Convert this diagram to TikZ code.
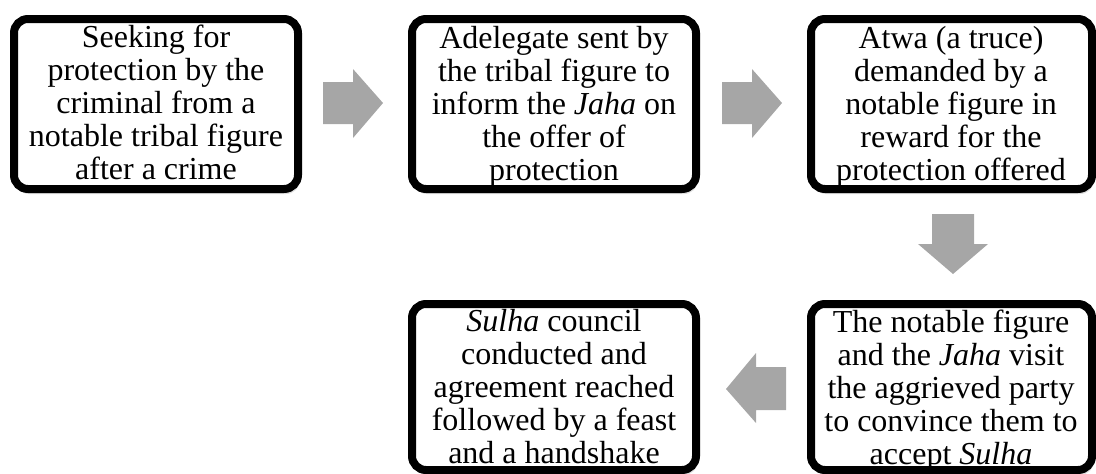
\documentclass[tikz,border=0pt]{standalone}
\usepackage{fontspec}
\setmainfont{Liberation Serif}
\begin{document}
\begin{tikzpicture}[x=1pt,y=-1pt,
  stepbox/.style={draw=black,line width=8pt,rounded corners=14pt,fill=white},
  shadowbox/.style={fill=black!25,opacity=0.5,rounded corners=14pt},
  boxtext/.style={align=center,inner sep=0pt,anchor=base,font=\fontsize{32pt}{33pt}\selectfont},
  arrowfill/.style={fill=black!35,draw=none}]
\useasboundingbox (0,0) rectangle (1096,474);
% shadows
\foreach \a/\b/\c/\d in {14/19/298/189, 412/19/696/189, 811/19/1092/189, 811/304/1092/470, 412/304/696/470}{
  \fill[shadowbox] (\a+1,\b+4) rectangle (\c+2,\d+5);
}
% boxes
\draw[stepbox] (14,19) rectangle (298,189);
\draw[stepbox] (412,19) rectangle (696,189);
\draw[stepbox] (811,19) rectangle (1092,189);
\draw[stepbox] (811,304) rectangle (1092,470);
\draw[stepbox] (412,304) rectangle (696,470);
% texts (anchor = baseline of last line)
\node[boxtext] (t1) at (156,179) {Seeking for\\protection by the\\criminal from a\\notable tribal figure\\after a crime};
\node[boxtext] (t2) at (554,180) {Adelegate sent by\\the tribal figure to\\inform the \textit{Jaha} on\\the offer of\\protection};
\node[boxtext] (t3) at (951,180) {Atwa (a truce)\\demanded by a\\notable figure in\\reward for the\\protection offered};
\node[boxtext] (t4) at (951,464) {The notable figure\\and the \textit{Jaha} visit\\the aggrieved party\\to convince them to\\accept \textit{Sulha}};
\node[boxtext] (t5) at (554,463) {\textit{Sulha} council\\conducted and\\agreement reached\\followed by a feast\\and a handshake};
% arrows
\fill[arrowfill] (323,82) -- (353,82) -- (353,69) -- (383,103) -- (353,138) -- (353,124) -- (323,124) -- cycle;
\fill[arrowfill] (722,82) -- (752,82) -- (752,69) -- (782,103) -- (752,138) -- (752,124) -- (722,124) -- cycle;
\fill[arrowfill] (932,214) -- (974,214) -- (974,244) -- (988,244) -- (953,274) -- (918,244) -- (932,244) -- cycle;
\fill[arrowfill] (786,367) -- (786,410) -- (756,410) -- (756,423) -- (726,389) -- (756,353) -- (756,367) -- cycle;
\end{tikzpicture}
\end{document}
